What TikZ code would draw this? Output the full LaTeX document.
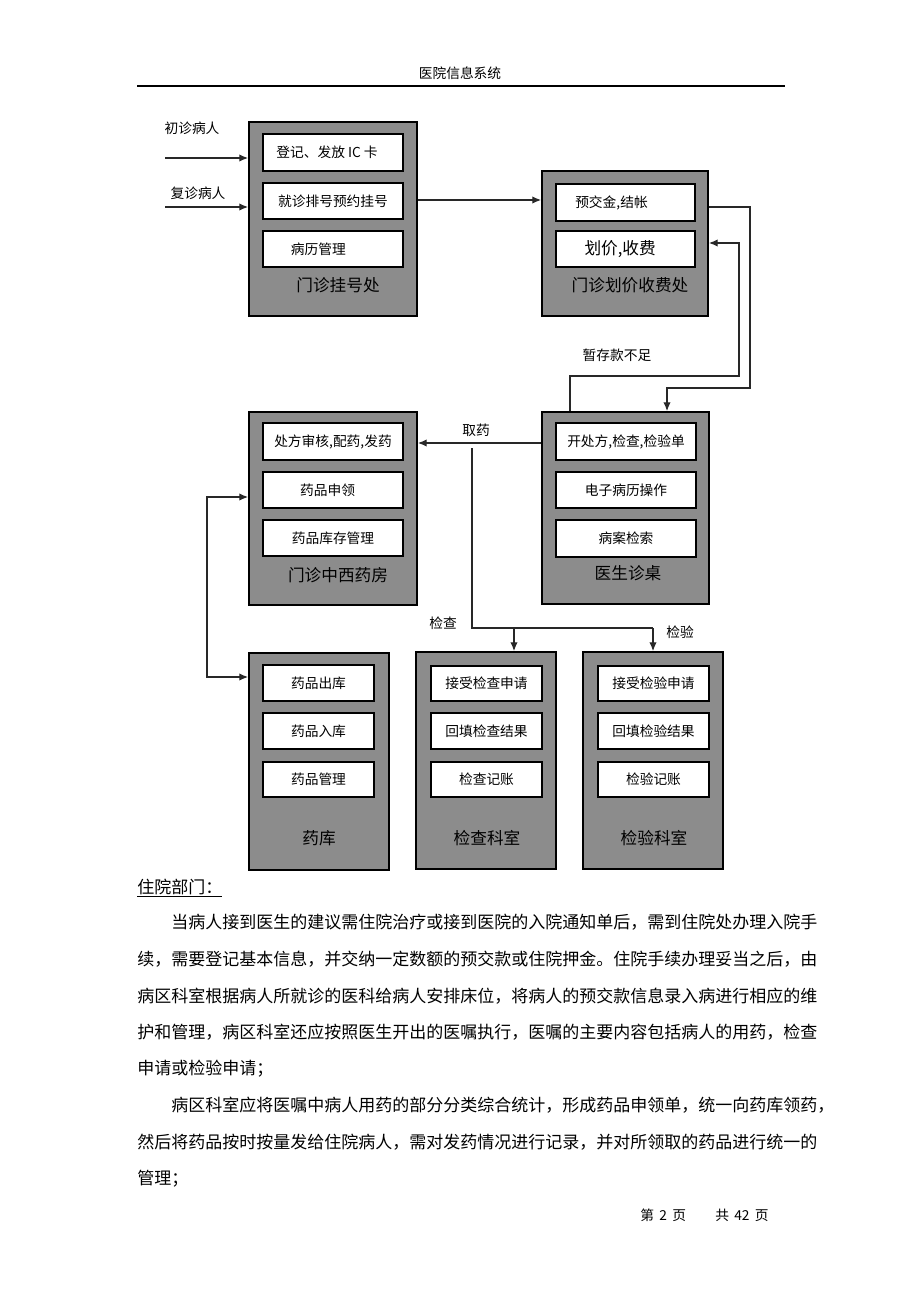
\documentclass[tikz,border=0pt]{standalone}
\usepackage{fontspec}
\setmainfont{Noto Sans CJK SC}
\usetikzlibrary{arrows.meta,fit,calc}
\definecolor{boxgray}{RGB}{140,140,140}
\definecolor{linegray}{RGB}{40,40,40}
\begin{document}
\begin{tikzpicture}[x=0.75pt,y=-0.75pt,
  outerbox/.style={draw=black, line width=1.5pt, fill=boxgray, inner sep=0pt},
  innerbox/.style={draw=black, line width=1.1pt, fill=white, inner sep=0pt},
  itext/.style={inner sep=0pt, font=\fontsize{10.3}{12}\selectfont},
  ltext/.style={inner sep=0pt, font=\fontsize{12.5}{14}\selectfont},
  stext/.style={inner sep=0pt, font=\fontsize{10.3}{12}\selectfont},
  btext/.style={inner sep=0pt, anchor=west, font=\fontsize{12.75}{14}\selectfont},
  conn/.style={line width=0.8pt, draw=linegray},
  arr/.style={conn, -{Latex[length=6.5pt,width=5.5pt]}},
  darr/.style={conn, {Latex[length=6.5pt,width=5.5pt]}-{Latex[length=6.5pt,width=5.5pt]}},
]
\fill[white] (0,0) rectangle (920,1302);
\useasboundingbox (0,0) rectangle (920,1302);

% header
\node[stext] (hdr) at (460,73) {医院信息系统};
\coordinate (hl) at (137,86);
\coordinate (hr) at (785,86);
\draw[line width=1.4pt] (hl) -- (hr);

% ---- 门诊挂号处
\node[outerbox, fit={(249,122) (417,316)}] (reg) {};
\node[innerbox, fit={(263,134) (403,171)}] (reg1) {};
\node[itext] (reg1t) at ([xshift=-4.5pt]reg1.center) {登记、发放 IC 卡};
\node[innerbox, fit={(263,183) (403,219)}] (reg2) {};
\node[itext] (reg2t) at (reg2.center) {就诊排号预约挂号};
\node[innerbox, fit={(263,231) (403,267)}] (reg3) {};
\node[itext] (reg3t) at ([xshift=-11pt]reg3.center) {病历管理};
\node[ltext] (regl) at (338,285) {门诊挂号处};

% ---- 门诊划价收费处
\node[outerbox, fit={(542,171) (708,316)}] (fee) {};
\node[innerbox, fit={(556,184) (695,221)}] (fee1) {};
\node[itext] (fee1t) at ([xshift=-10.5pt]fee1.center) {预交金,结帐};
\node[innerbox, fit={(556,231) (695,267)}] (fee2) {};
\node[ltext] (fee2t) at ([xshift=-4pt]fee2.center) {划价,收费};
\node[ltext] (feel) at (630,285) {门诊划价收费处};

% ---- 医生诊桌
\node[outerbox, fit={(542,412) (709,604)}] (doc) {};
\node[innerbox, fit={(556,423) (696,460)}] (doc1) {};
\node[itext] (doc1t) at (doc1.center) {开处方,检查,检验单};
\node[innerbox, fit={(556,472) (696,508)}] (doc2) {};
\node[itext] (doc2t) at (doc2.center) {电子病历操作};
\node[innerbox, fit={(556,520) (696,557)}] (doc3) {};
\node[itext] (doc3t) at (doc3.center) {病案检索};
\node[ltext] (docl) at (628,573) {医生诊桌};

% ---- 门诊中西药房
\node[outerbox, fit={(249,412) (417,605)}] (pharm) {};
\node[innerbox, fit={(263,423) (403,460)}] (ph1) {};
\node[itext] (ph1t) at (ph1.center) {处方审核,配药,发药};
\node[innerbox, fit={(263,472) (403,508)}] (ph2) {};
\node[itext] (ph2t) at ([xshift=-4pt]ph2.center) {药品申领};
\node[innerbox, fit={(263,520) (403,556)}] (ph3) {};
\node[itext] (ph3t) at (ph3.center) {药品库存管理};
\node[ltext] (phl) at (338,575) {门诊中西药房};

% ---- 药库
\node[outerbox, fit={(249,653) (389,870)}] (store) {};
\node[innerbox, fit={(263,665) (374,701)}] (st1) {};
\node[itext] (st1t) at (st1.center) {药品出库};
\node[innerbox, fit={(263,713) (374,749)}] (st2) {};
\node[itext] (st2t) at (st2.center) {药品入库};
\node[innerbox, fit={(263,762) (374,797)}] (st3) {};
\node[itext] (st3t) at (st3.center) {药品管理};
\node[ltext] (stl) at (319,838) {药库};

% ---- 检查科室
\node[outerbox, fit={(416,652) (556,869)}] (chk) {};
\node[innerbox, fit={(431,666) (542,701)}] (ck1) {};
\node[itext] (ck1t) at (ck1.center) {接受检查申请};
\node[innerbox, fit={(431,713) (542,749)}] (ck2) {};
\node[itext] (ck2t) at (ck2.center) {回填检查结果};
\node[innerbox, fit={(431,762) (542,797)}] (ck3) {};
\node[itext] (ck3t) at (ck3.center) {检查记账};
\node[ltext] (ckl) at (487,838) {检查科室};

% ---- 检验科室
\node[outerbox, fit={(583,652) (723,869)}] (lab) {};
\node[innerbox, fit={(598,666) (709,701)}] (lb1) {};
\node[itext] (lb1t) at (lb1.center) {接受检验申请};
\node[innerbox, fit={(598,713) (709,749)}] (lb2) {};
\node[itext] (lb2t) at (lb2.center) {回填检验结果};
\node[innerbox, fit={(598,762) (709,797)}] (lb3) {};
\node[itext] (lb3t) at (lb3.center) {检验记账};
\node[ltext] (lbl) at (654,838) {检验科室};

% ---- side labels
\node[stext] (lnew) at (192,128) {初诊病人};
\node[stext] (lret) at (198,193) {复诊病人};
\node[stext] (lshort) at (617,355) {暂存款不足};
\node[stext] (lmed) at (476,430) {取药};
\node[stext] (lchk) at (443,623) {检查};
\node[stext] (llab) at (680,632) {检验};

% ---- connectors
\coordinate (in1) at (165,158);
\coordinate (in2) at (165,207);
\draw[arr] (in1) -- (in1 -| reg.west);
\draw[arr] (in2) -- (in2 -| reg.west);

\coordinate (r2f) at (0,200);
\draw[arr] (reg.east |- r2f) -- (r2f -| fee.west);

\coordinate (f1) at (0,207);
\coordinate (k1) at (750,388);
\coordinate (k2) at (667,0);
\draw[arr] (fee.east |- f1) -| (k1) -| (k2 |- doc.north);

\coordinate (m0) at (570,0);
\coordinate (m1) at (739,376);
\coordinate (m2) at (0,243);
\draw[arr] (m0 |- doc.north) |- (m1) |- (fee.east |- m2);

\coordinate (q) at (0,443);
\draw[arr] (doc.west |- q) -- (pharm.east |- q);

\coordinate (t0) at (472,448);
\coordinate (t1) at (653,628);
\coordinate (t2) at (514,628);
\draw[conn] (t0) |- (t1);
\draw[arr] (t1) -- (t1 |- lab.north);
\draw[arr] (t2) -- (t2 |- chk.north);

\coordinate (b1) at (207,497);
\coordinate (b2) at (207,677);
\draw[darr] (pharm.west |- b1) -- (b1) -- (b2) -- (store.west |- b2);

% ---- body text
\node[btext] (sec) at (137,888) {\underline{住院部门：}};
\node[btext] (p1) at (171,922.5) {当病人接到医生的建议需住院治疗或接到医院的入院通知单后，需到住院处办理入院手};
\node[btext] (p2) at (137,959.1) {续，需要登记基本信息，并交纳一定数额的预交款或住院押金。住院手续办理妥当之后，由};
\node[btext] (p3) at (137,995.7) {病区科室根据病人所就诊的医科给病人安排床位，将病人的预交款信息录入病进行相应的维};
\node[btext] (p4) at (137,1032.3) {护和管理，病区科室还应按照医生开出的医嘱执行，医嘱的主要内容包括病人的用药，检查};
\node[btext] (p5) at (137,1068.9) {申请或检验申请；};
\node[btext] (p6) at (171,1105.5) {病区科室应将医嘱中病人用药的部分分类综合统计，形成药品申领单，统一向药库领药，};
\node[btext] (p7) at (137,1142.1) {然后将药品按时按量发给住院病人，需对发药情况进行记录，并对所领取的药品进行统一的};
\node[btext] (p8) at (137,1178.7) {管理；};

% ---- footer
\node[stext, anchor=west] (ft1) at (640,1215) {第\hspace{4pt}2\hspace{4pt}页};
\node[stext, anchor=west] (ft2) at (715,1215) {共\hspace{4pt}42\hspace{4pt}页};
\end{tikzpicture}
\end{document}
